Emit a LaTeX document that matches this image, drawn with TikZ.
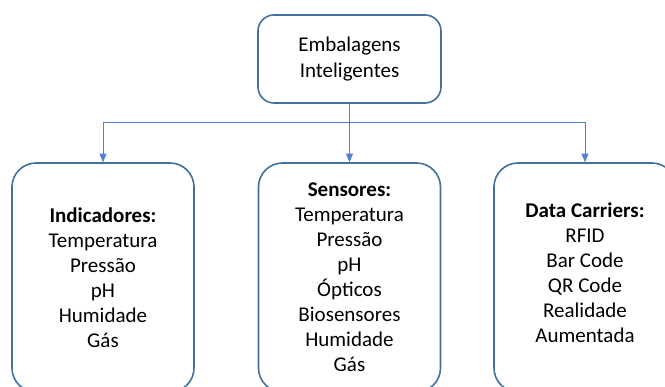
\documentclass[tikz,border=0pt]{standalone}
\usepackage{fontspec}
\setmainfont{Carlito}
\usetikzlibrary{arrows}

\definecolor{boxblue}{HTML}{41719C}
\definecolor{lineblue}{HTML}{4F81D6}

\tikzset{
  topbox/.style={draw=boxblue,line width=1.6pt,rounded corners=16pt,fill=white,
    align=center,minimum width=183pt,minimum height=88pt,
    font=\fontsize{21}{26}\selectfont},
  groupbox/.style={draw=boxblue,line width=1.6pt,rounded corners=24pt,fill=white,
    align=center,minimum width=182pt,minimum height=229pt,
    font=\fontsize{21}{25}\selectfont},
  conn/.style={draw=lineblue,line width=1pt,-triangle 45}
}

\begin{document}
\begin{tikzpicture}[x=1pt,y=-1pt]
\clip (0,0) rectangle (665,387);
\useasboundingbox (0,0) rectangle (665,387);

\node (emb) at (349.5,59) [topbox] {Embalagens\\Inteligentes};

\node (ind) at (103,277.5) [groupbox] {\textbf{Indicadores:}\\Temperatura\\Pressão\\pH\\Humidade\\Gás};
\node (sen) at (349.5,277.5) [groupbox] {\textbf{Sensores:}\\Temperatura\\Pressão\\pH\\Ópticos\\Biosensores\\Humidade\\Gás};
\node (dat) at (585,277.5) [groupbox] {\textbf{Data Carriers:}\\RFID\\Bar Code\\QR Code\\Realidade\\Aumentada\\[-15pt]};

\coordinate (split) at (349.5,123);

\draw [conn] (emb.south) -- (split) -| (ind.north);
\draw [conn] (emb.south) -- (sen.north);
\draw [conn] (emb.south) -- (split) -| (dat.north);

\end{tikzpicture}
\end{document}
